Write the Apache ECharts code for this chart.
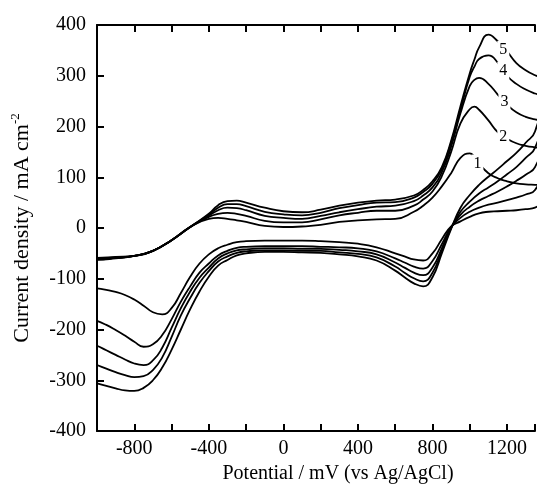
<!DOCTYPE html>
<html>
	<head>
		<meta charset="UTF-8">
		<title>CV</title>
		<style type="text/css">
			body{margin: 0;padding: 0;background: #fff;}
			#cv{width: 538px;height: 490px;}
		</style>
	</head>
	<body>
		<div id="cv"></div>
		<script src="https://cdn.jsdelivr.net/npm/echarts@6/dist/echarts.min.js"></script>
		<script>
		// forward (anodic) sweep, potential in mV
		var xFwd = [-1050, -1000, -900, -800, -700, -600, -500, -400, -350, -300, -250, -200, -100, 0, 100, 200, 300, 400, 500, 600, 700, 750, 800, 850, 900, 950, 1000, 1025, 1050, 1100, 1150, 1200, 1250, 1300, 1350, 1400];
		var fwd1 = [-58, -59, -57, -55, -45, -24, 2, 18, 20, 18, 15, 12, 4, 2, 3, 6, 12, 15, 17, 18, 32, 44, 60, 82, 108, 138, 147, 140, 127, 108, 98, 92, 88, 86, 85, 84];
		var fwd2 = [-59, -60, -58, -55, -45, -24, 2, 22, 28, 30, 28, 24, 14, 11, 11, 17, 25, 30, 34, 34, 44, 56, 72, 102, 150, 206, 234, 239, 233, 212, 189, 176, 167, 162, 159, 157];
		var fwd3 = [-60, -61, -59, -55, -45, -24, 2, 24, 35, 40, 39, 35, 24, 20, 18, 24, 31, 37, 42, 44, 53, 64, 80, 110, 160, 226, 280, 292, 296, 284, 263, 243, 228, 219, 214, 210];
		var fwd4 = [-61, -62, -59, -55, -45, -24, 2, 26, 40, 47, 47, 43, 32, 27, 25, 30, 39, 45, 50, 51, 60, 71, 87, 116, 168, 233, 298, 318, 333, 340, 326, 300, 284, 273, 265, 259];
		var fwd5 = [-62, -63, -60, -55, -45, -24, 2, 28, 45, 53, 54, 50, 40, 33, 31, 36, 44, 50, 54, 56, 64, 75, 92, 120, 172, 240, 305, 332, 356, 381, 368, 348, 325, 311, 301, 293];

		// reverse (cathodic) sweep
		var xRev = [1400, 1350, 1300, 1250, 1200, 1150, 1100, 1050, 1000, 950, 900, 850, 800, 750, 700, 650, 600, 500, 400, 300, 200, 100, 0, -100, -200, -250, -300, -350, -400, -450, -500, -550, -600, -650, -700, -750, -800, -850, -900, -950, -1000, -1050];
		var rev1 = [60, 40, 37, 35, 34, 33, 32, 29, 22, 13, 3, -22, -50, -64, -62, -56, -50, -38, -31, -28, -26, -25, -25, -25, -26, -28, -33, -40, -52, -70, -96, -128, -158, -170, -166, -153, -141, -132, -126, -122, -119, -116];
		var rev2 = [120, 75, 66, 60, 55, 50, 46, 40, 32, 20, 2, -32, -65, -80, -76, -68, -60, -46, -40, -38, -37, -36, -36, -36, -37, -39, -45, -54, -70, -88, -115, -145, -180, -211, -229, -234, -224, -212, -201, -191, -183, -178];
		var rev3 = [180, 120, 105, 93, 82, 72, 63, 54, 42, 26, 1, -40, -78, -93, -88, -78, -68, -52, -46, -43, -41, -41, -40, -40, -42, -44, -50, -60, -78, -98, -125, -158, -197, -236, -261, -270, -267, -259, -250, -241, -232, -225];
		var rev4 = [230, 158, 138, 120, 106, 92, 80, 68, 52, 32, 0, -45, -88, -105, -99, -88, -76, -58, -51, -48, -45, -45, -44, -44, -46, -49, -56, -66, -85, -108, -138, -172, -215, -255, -280, -292, -294, -290, -284, -277, -270, -263];
		var rev5 = [280, 190, 168, 148, 132, 116, 101, 85, 65, 40, -2, -50, -97, -115, -109, -97, -84, -64, -56, -52, -49, -48, -47, -47, -50, -54, -63, -74, -96, -125, -160, -200, -240, -275, -300, -315, -321, -320, -316, -311, -306, -300];

		// curve numbers
		var tagX = [1041, 1180, 1186, 1180, 1180];
		var tagY = [127, 179, 249, 310, 351];
		var tagText = ['1', '2', '3', '4', '5'];

		var serif = 'Liberation Serif';

		function loop(f, r){
			var pts = [];
			for(var i=0;i<xFwd.length;i++){ pts.push([xFwd[i], f[i]]); }
			for(var j=0;j<xRev.length;j++){ pts.push([xRev[j], r[j]]); }
			return pts;
		}

		var curves = [[fwd1, rev1], [fwd2, rev2], [fwd3, rev3], [fwd4, rev4], [fwd5, rev5]];
		var series = curves.map(function(c){
			return {
				type: 'line',
				data: loop(c[0], c[1]),
				smooth: 0.5,
				showSymbol: false,
				clip: true,
				lineStyle: {color: '#000', width: 1.8},
				z: 2
			};
		});

		var tags = [];
		for(var k=0;k<tagText.length;k++){ tags.push([tagX[k], tagY[k], tagText[k]]); }
		series.push({
			type: 'scatter',
			data: tags,
			symbolSize: 1,
			itemStyle: {color: '#fff', opacity: 1},
			label: {
				show: true,
				position: 'inside',
				formatter: function(p){ return p.value[2]; },
				color: '#000',
				fontFamily: serif,
				fontSize: 16,
				backgroundColor: '#fff',
				padding: [1, 2]
			},
			z: 10
		});

		var chart = echarts.init(document.getElementById('cv'));
		chart.setOption({
			animation: false,
			backgroundColor: '#fff',
			grid: {left: 97, right: 0, top: 25, bottom: 59},
			xAxis: [{
				type: 'value',
				min: -1000,
				max: 1350,
				interval: 200,
				axisLine: {onZero: false, lineStyle: {color: '#000', width: 2}},
				axisTick: {inside: true, length: 7, lineStyle: {color: '#000', width: 2}},
				splitLine: {show: false},
				axisLabel: {
					color: '#000', fontFamily: serif, fontSize: 20, margin: 8,
					formatter: function(v){ return (v % 400 === 0) ? String(v) : ''; }
				},
				name: 'Potential / mV (vs Ag/AgCl)',
				nameLocation: 'middle',
				nameGap: 33,
				nameTextStyle: {color: '#000', fontFamily: serif, fontSize: 20, padding: [0, 0, 0, 44]}
			}, {
				type: 'value',
				position: 'top',
				min: -1000,
				max: 1350,
				interval: 200,
				axisLine: {onZero: false, lineStyle: {color: '#000', width: 2}},
				axisTick: {inside: true, length: 7, lineStyle: {color: '#000', width: 2}},
				axisLabel: {show: false},
				splitLine: {show: false}
			}],
			yAxis: {
				type: 'value',
				min: -400,
				max: 400,
				interval: 100,
				axisLine: {show: true, onZero: false, lineStyle: {color: '#000', width: 2}},
				axisTick: {show: true, inside: true, length: 7, lineStyle: {color: '#000', width: 2}},
				splitLine: {show: false},
				axisLabel: {color: '#000', fontFamily: serif, fontSize: 20, margin: 11},
				name: '{a|Current density / mA cm}{b|-2}',
				nameLocation: 'middle',
				nameGap: 62,
				nameTextStyle: {
					color: '#000',
					rich: {
						a: {fontFamily: serif, fontSize: 22, color: '#000', lineHeight: 26},
						b: {fontFamily: serif, fontSize: 13, color: '#000', verticalAlign: 'top', lineHeight: 26}
					}
				}
			},
			series: series
		});
		</script>
	</body>
</html>
